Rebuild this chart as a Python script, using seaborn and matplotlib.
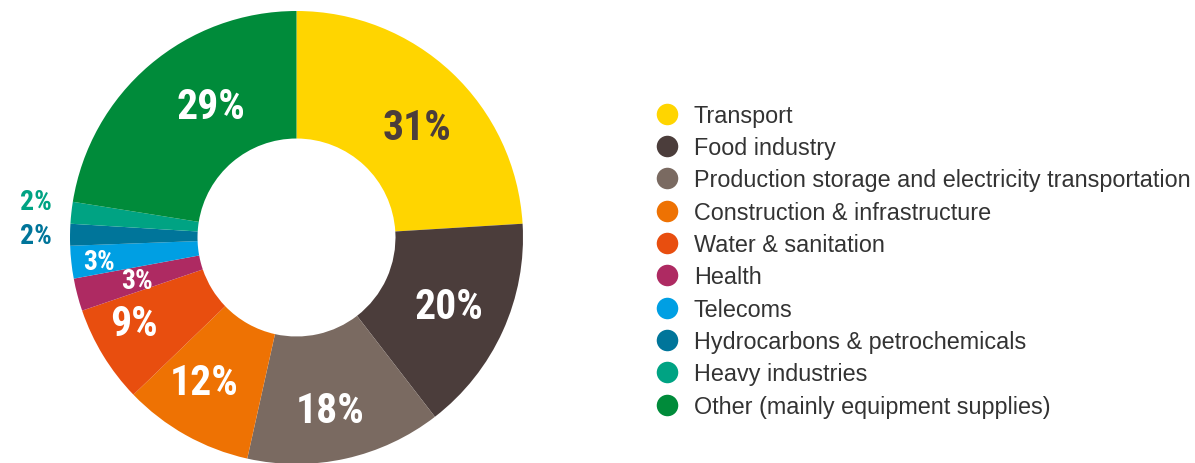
import matplotlib
matplotlib.use("Agg")
import matplotlib.pyplot as plt
from matplotlib import font_manager
from matplotlib.lines import Line2D
import numpy as np
import seaborn as sns

# data
sectors = ["Transport", "Food industry", "Production storage and electricity transportation",
           "Construction & infrastructure", "Water & sanitation", "Health", "Telecoms",
           "Hydrocarbons & petrochemicals", "Heavy industries", "Other (mainly equipment supplies)"]
shares = [31, 20, 18, 12, 9, 3, 3, 2, 2, 29]
colors = ["#FFD500", "#4B3D3B", "#7A6A61", "#EE7203", "#E84E0F",
          "#AE2A62", "#009FE3", "#00759A", "#00A383", "#008B3A"]

# label look: radius, angle nudge (deg), colour, size
label_r = [0.72, 0.74, 0.78, 0.76, 0.81, 0.73, 0.88, 1.15, 1.16, 0.69]
label_nudge = [-4.4, 0.1, -1.5, -3.0, -3.5, 0.6, 0.7, 0.3, -1.7, -7.2]
label_col = ["#4B3D3B", "white", "white", "white", "white", "white", "white",
             "#00759A", "#00A383", "white"]
label_size = [30, 30, 30, 30, 30, 20, 20, 20, 20, 30]

sns.set_theme(style="white")

# pick a condensed bold face if one is installed
names = {f.name for f in font_manager.fontManager.ttflist}
cond = "DejaVu Sans"
for n in ["Roboto Condensed", "Liberation Sans Narrow", "Open Sans Condensed"]:
    if n in names:
        cond = n
        break
label_font = dict(family=[cond, "DejaVu Sans"], weight="bold", stretch="condensed")

plt.rcParams["font.family"] = ["Liberation Sans", "DejaVu Sans"]

fig = plt.figure(figsize=(11.95, 4.64), dpi=100)
# pie centre at (296.5, 238.5) px, radius 226.5 px
ax = fig.add_axes([70 / 1195, -1 / 464, 453 / 1195, 453 / 464])

wedges, _ = ax.pie(shares, colors=colors, startangle=90, counterclock=False,
                   radius=1, wedgeprops=dict(width=0.563, linewidth=0))
ax.set_aspect("equal")
ax.set_xlim(-1, 1)
ax.set_ylim(-1, 1)
ax.set_axis_off()

for w, v, r, dn, c, s in zip(wedges, shares, label_r, label_nudge, label_col, label_size):
    mid = np.deg2rad((w.theta1 + w.theta2) / 2 + dn)
    ax.text(r * np.cos(mid), r * np.sin(mid), f"{v}%", ha="center", va="center",
            color=c, fontsize=s, clip_on=False, **label_font)

handles = [Line2D([], [], marker="o", linestyle="", markersize=15.5,
                  markerfacecolor=c, markeredgewidth=0) for c in colors]
leg = fig.legend(handles, sectors, loc="upper left", bbox_to_anchor=(641 / 1195, 1 - 93 / 464),
                 frameon=False, fontsize=16.8, labelspacing=0.40, handletextpad=0.56,
                 handlelength=1.2, borderpad=0)
for t in leg.get_texts():
    t.set_color("#333333")

fig.savefig("out.png", dpi=100)
